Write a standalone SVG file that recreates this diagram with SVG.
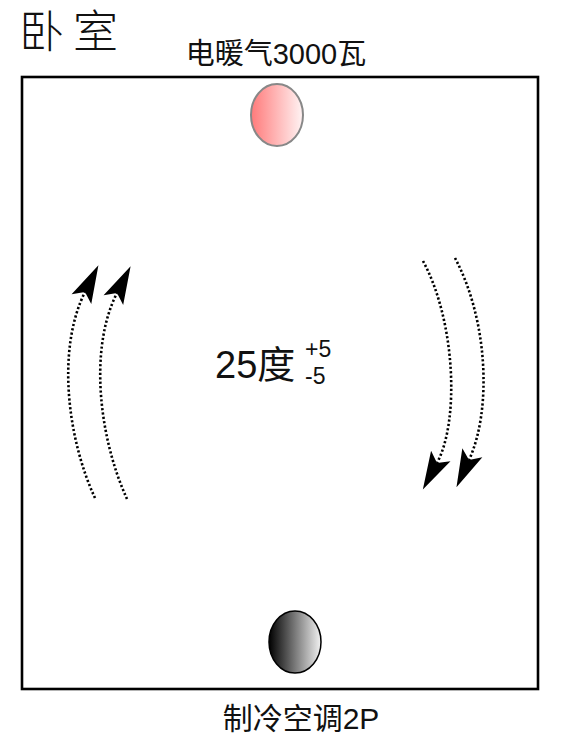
<svg xmlns="http://www.w3.org/2000/svg" width="567" height="746" viewBox="0 0 567 746">
<style>
.cjk{font-family:"Liberation Sans","Noto Sans CJK SC",sans-serif;fill:#111}
.flow{fill:none;stroke:#000;stroke-width:2.6;stroke-dasharray:2.2 2.2}
</style>
<defs>
<linearGradient id="gRed" x1="0" y1="0" x2="1" y2="0">
<stop offset="0" stop-color="#ff7a7a"/><stop offset="1" stop-color="#fff4f4"/>
</linearGradient>
<linearGradient id="gBlk" x1="0" y1="0" x2="1" y2="0">
<stop offset="0" stop-color="#000"/><stop offset="1" stop-color="#f2f2f2"/>
</linearGradient>
<marker id="ah" markerUnits="userSpaceOnUse" markerWidth="40" markerHeight="24" viewBox="0 -12 40 24" refX="8" refY="0" orient="auto" overflow="visible">
<path d="M38,0 L0,-11 L8,0 L0,11 Z" fill="#000"/>
</marker>
</defs>
<rect width="567" height="746" fill="#fff"/>
<text id="title" class="cjk" x="19" y="48" font-size="45" letter-spacing="9" font-weight="300">卧室</text>
<g id="room"><rect x="22" y="77" width="516" height="612" fill="none" stroke="#000" stroke-width="2.6"/></g>
<g id="heater">
<ellipse cx="277" cy="115" rx="26" ry="31" fill="url(#gRed)" stroke="#888" stroke-width="2"/>
<text class="cjk" x="276" y="64" font-size="29" text-anchor="middle">电暖气3000瓦</text>
</g>
<g id="ac">
<ellipse cx="295" cy="642" rx="26" ry="31" fill="url(#gBlk)" stroke="#000" stroke-width="1.5"/>
<text class="cjk" x="301" y="729" font-size="30" text-anchor="middle">制冷空调2P</text>
</g>
<g id="temp">
<text class="cjk" x="215" y="378" font-size="38">25度</text>
<text class="cjk" x="305" y="357" font-size="23">+5</text>
<text class="cjk" x="305" y="384" font-size="23">-5</text>
</g>
<g id="connectors">
<path class="flow" d="M95,498 C68,440 56,350 85,292" marker-end="url(#ah)"/>
<path class="flow" d="M127,499 C100,440 88,350 117,293" marker-end="url(#ah)"/>
<path class="flow" d="M423,261 C455,320 460,420 437,463" marker-end="url(#ah)"/>
<path class="flow" d="M455,258 C488,320 492,410 469,460" marker-end="url(#ah)"/>
</g>
</svg>
